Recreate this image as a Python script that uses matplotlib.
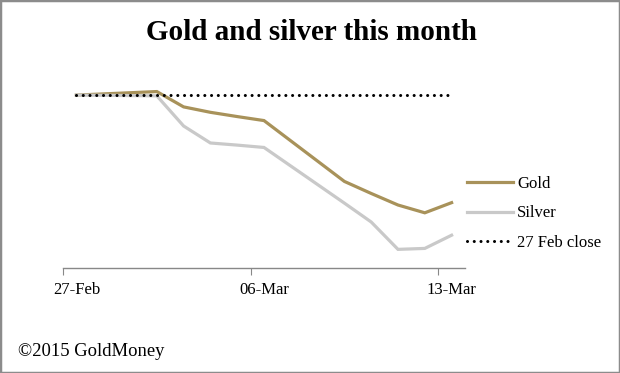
import matplotlib
matplotlib.use("Agg")
import matplotlib.pyplot as plt
import matplotlib.dates as mdates
from matplotlib.patches import Rectangle
import pandas as pd
import numpy as np

plt.rcParams['font.family'] = ['Liberation Serif', 'DejaVu Serif']

dates = ["2015-02-27", "2015-03-02", "2015-03-03", "2015-03-04", "2015-03-05",
         "2015-03-06", "2015-03-09", "2015-03-10", "2015-03-11", "2015-03-12",
         "2015-03-13"]
gold = [100.0, 100.15, 99.50, 99.27, 99.09, 98.92, 96.34, 95.83, 95.34, 95.01, 95.44]
silver = [100.0, 99.97, 98.69, 97.97, 97.88, 97.78, 95.42, 94.62, 93.46, 93.50, 94.06]
close_level = [100.0] * len(dates)
tick_dates = ["2015-02-27", "2015-03-06", "2015-03-13"]
tick_labels = ["27-Feb", "06-Mar", "13-Mar"]

x = pd.to_datetime(dates) + pd.Timedelta(hours=12)

fig = plt.figure(figsize=(6.2, 3.73), dpi=100)
ax = fig.add_axes([63/620, 1-268/373, (465-63)/620, (268-80)/373])

gold_c = '#A8925A'
silver_c = '#C9C9C9'
ax.plot(x, gold, color=gold_c, lw=2.3, label='Gold', solid_joinstyle='miter')
ax.plot(x, silver, color=silver_c, lw=2.3, label='Silver', solid_joinstyle='miter')
ax.plot(x, close_level, color='black', lw=2.2, linestyle=(0, (0.01, 2.2)),
        dash_capstyle='round', label='27 Feb close')

ax.set_xlim(pd.Timestamp("2015-02-27"), pd.Timestamp("2015-03-14"))
ax.set_ylim(92.67, 100.64)

for s in ['top', 'right', 'left']:
    ax.spines[s].set_visible(False)
ax.spines['bottom'].set_color('#888888')
ax.spines['bottom'].set_linewidth(1.0)
ax.set_yticks([])
tick_pos = pd.to_datetime(tick_dates)
ax.set_xticks(tick_pos)
ax.set_xticklabels([])
ax.set_xticks(tick_pos + pd.Timedelta(hours=12), minor=True)
ax.set_xticklabels(tick_labels, minor=True, fontsize=12)
ax.tick_params(axis='x', which='major', direction='out', length=5, color='#888888')
ax.tick_params(axis='x', which='minor', length=0, pad=10)

fig.text(311/620, 1-32/373, "Gold and silver this month", ha='center', va='center',
         fontsize=21, fontweight='bold')

fig.legend(loc='upper left', bbox_to_anchor=(467/620, 1-176/373), frameon=False,
           fontsize=12, handlelength=2.75, handletextpad=0.25, labelspacing=0.8,
           borderpad=0, borderaxespad=0)

fig.text(18/620, 1-351/373, "\u00a92015 GoldMoney", ha='left', va='center', fontsize=13.4)

fig.patches.append(Rectangle((0, 0), 1, 1, transform=fig.transFigure, fill=False,
                             edgecolor='#8c8c8c', lw=2.5))

fig.savefig("out.png", dpi=100)
